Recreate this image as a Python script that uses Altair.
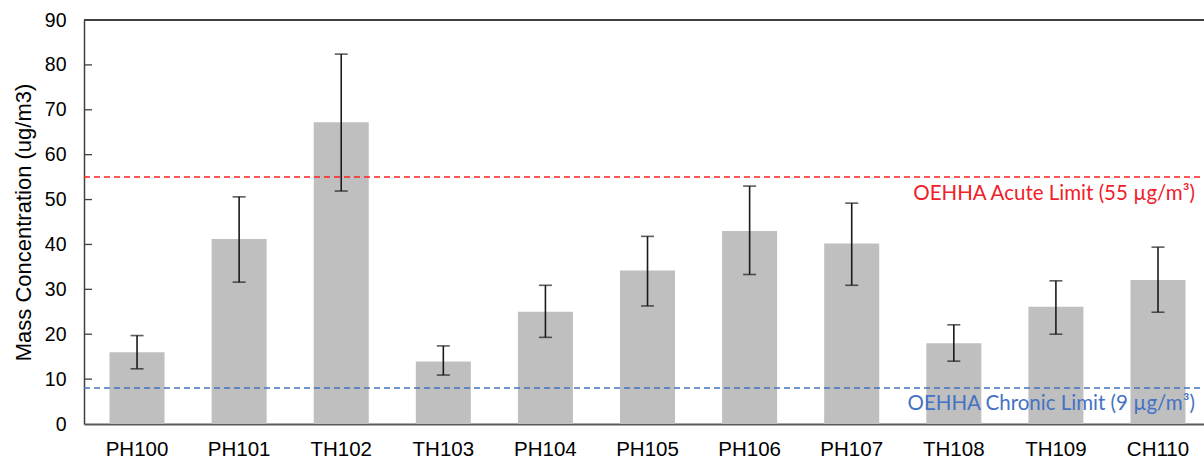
import altair as alt
import pandas as pd

sites = ["PH100", "PH101", "TH102", "TH103", "PH104", "PH105",
         "PH106", "PH107", "TH108", "TH109", "CH110"]
mass = [16.0, 41.2, 67.2, 13.9, 25.0, 34.2, 43.0, 40.2, 18.0, 26.1, 32.1]
err_low = [12.3, 31.6, 51.9, 10.9, 19.3, 26.3, 33.3, 30.9, 14.0, 20.0, 24.9]
err_high = [19.7, 50.6, 82.4, 17.4, 30.9, 41.8, 53.0, 49.2, 22.1, 31.9, 39.4]

y_ticks = [0, 10, 20, 30, 40, 50, 60, 70, 80, 90]

acute_value = 55
acute_label = "OEHHA Acute Limit (55 µg/m³)"
chronic_value = 8
chronic_label = "OEHHA Chronic Limit (9 µg/m³)"

df = pd.DataFrame({"site": sites, "mass": mass, "lo": err_low, "hi": err_high})
ticks_df = pd.DataFrame({"t": y_ticks[1:-1]})
acute_df = pd.DataFrame({"v": [acute_value], "label": [acute_label]})
chronic_df = pd.DataFrame({"v": [chronic_value], "label": [chronic_label]})

W, H = 1120, 404
FONT = "Liberation Sans"

xscale = alt.Scale(paddingInner=0.461, paddingOuter=0.2155, align=0.58)
yscale = alt.Scale(domain=[0, 90], nice=False, zero=True)

x_enc = alt.X("site:N", sort=sites, scale=xscale,
              axis=alt.Axis(title=None, labelAngle=0, labelFont=FONT, labelFontSize=20.5,
                            labelColor="#000000", labelPadding=15, ticks=False,
                            domainColor="#595959", domainWidth=2.2, grid=False))
y_axis = alt.Axis(title="Mass Concentration (ug/m3)", values=y_ticks, tickSize=0,
                  labelFont=FONT, labelFontSize=19.5, labelColor="#000000",
                  labelPadding=18, titleFont=FONT, titleFontSize=22,
                  titleFontWeight="normal", titleColor="#000000", titlePadding=9,
                  domainColor="#404040", domainWidth=1.5, grid=False)

bars = alt.Chart(df).mark_bar(color="#BFBFBF").encode(
    x=x_enc,
    y=alt.Y("mass:Q", scale=yscale, axis=y_axis),
)

err_rule = alt.Chart(df).mark_rule(color="#1a1a1a", strokeWidth=1.6).encode(
    x=alt.X("site:N", sort=sites, scale=xscale),
    y=alt.Y("lo:Q", scale=yscale),
    y2="hi:Q",
)
cap_lo = alt.Chart(df).mark_tick(color="#1a1a1a", thickness=1.6, size=13).encode(
    x=alt.X("site:N", sort=sites, scale=xscale),
    y=alt.Y("lo:Q", scale=yscale),
)
cap_hi = alt.Chart(df).mark_tick(color="#1a1a1a", thickness=1.6, size=13).encode(
    x=alt.X("site:N", sort=sites, scale=xscale),
    y=alt.Y("hi:Q", scale=yscale),
)

inner_ticks = alt.Chart(ticks_df).mark_rule(color="#404040", strokeWidth=1.3).encode(
    x=alt.value(0), x2=alt.value(8),
    y=alt.Y("t:Q", scale=yscale),
)

top_border = alt.Chart(df).mark_rule(color="#404040", strokeWidth=1.5).encode(
    x=alt.value(0), x2=alt.value(W), y=alt.value(0),
)

acute_line = alt.Chart(acute_df).mark_rule(color="#FF2020", strokeWidth=1.5,
                                           strokeDash=[6, 4]).encode(
    x=alt.value(0), x2=alt.value(W), y=alt.Y("v:Q", scale=yscale))
chronic_line = alt.Chart(chronic_df).mark_rule(color="#4472C4", strokeWidth=1.5,
                                               strokeDash=[6, 4]).encode(
    x=alt.value(0), x2=alt.value(W), y=alt.Y("v:Q", scale=yscale))

acute_text = alt.Chart(acute_df).mark_text(
    align="right", baseline="middle", dy=17, font="Lato", fontSize=20.5,
    color="#F0202A").encode(
    x=alt.value(1111), y=alt.Y("v:Q", scale=yscale), text="label:N")
chronic_text = alt.Chart(chronic_df).mark_text(
    align="right", baseline="middle", dy=15.5, font="Lato", fontSize=20.5,
    color="#4472C4").encode(
    x=alt.value(1111), y=alt.Y("v:Q", scale=yscale), text="label:N")

chart = alt.layer(
    bars, err_rule, cap_lo, cap_hi, acute_line, chronic_line,
    acute_text, chronic_text, inner_ticks, top_border,
).properties(
    width=W, height=H,
    padding={"left": 84, "top": 20, "right": 0, "bottom": 40},
    autosize=alt.AutoSizeParams(type="none"),
    background="#FFFFFF",
).configure_view(stroke=None)

chart.save("out.html", embed_options={"renderer": "svg", "actions": False})
